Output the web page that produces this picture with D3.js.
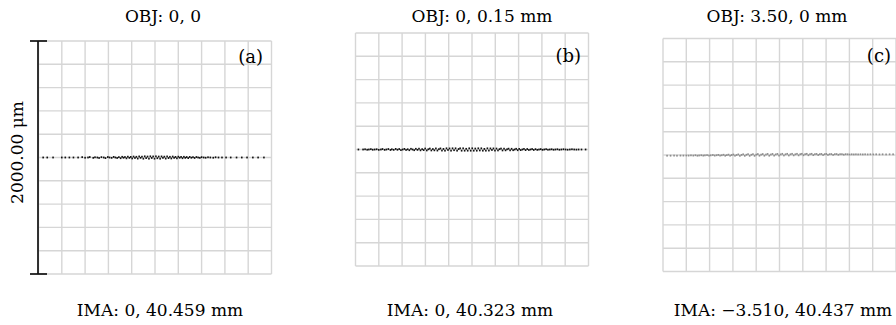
<!DOCTYPE html>
<html><head><meta charset="utf-8">
<script src="https://cdn.jsdelivr.net/npm/d3@7/dist/d3.min.js"></script>
<style>body{margin:0;background:#fff}svg{display:block}</style>
</head><body>
<svg id="c" width="896" height="325"></svg>
<script>
// Panel labels
const objLabels = ["OBJ: 0, 0", "OBJ: 0, 0.15 mm", "OBJ: 3.50, 0 mm"];
const imaLabels = ["IMA: 0, 40.459 mm", "IMA: 0, 40.323 mm", "IMA: \u22123.510, 40.437 mm"];
const tagLabels = ["(a)", "(b)", "(c)"];
const scaleLabel = "2000.00 \u03bcm";
const gridTicks = [-1000,-800,-600,-400,-200,0,200,400,600,800,1000];

// Spot points [x µm, y µm] relative to chief ray
const spotsA = [[-960,0],[-925,0],[-875,0],[-800,0],[-770,0],[-735,0],[-700,0],[-660,0],[-625,3],[-600,-2],[-575,0],[-560,4],[-530,-3],[-515,2],[-495,0],[-480,-4],[-460,3],[-440,0],[-425,-5],[-405,4],[-390,0],[-372,-3],[-355,5],[-340,0],[-325,-4],[-310,3],[-295,-6],[-282,6],[-270,-2],[-258,4],[-245,-7],[-233,7],[-220,-3],[-208,5],[-196,-8],[-184,8],[-172,-4],[-160,6],[-148,-9],[-136,9],[-124,-3],[-112,7],[-100,-10],[-88,10],[-76,-5],[-64,8],[-52,-10],[-40,10],[-28,-4],[-16,9],[-4,-10],[8,10],[20,-6],[32,8],[44,-10],[56,9],[68,-3],[80,7],[92,-9],[104,9],[116,-5],[128,6],[140,-8],[152,8],[164,-3],[176,5],[188,-7],[200,7],[212,-2],[224,5],[236,-6],[248,6],[260,-3],[272,4],[285,-5],[298,5],[312,-2],[326,3],[340,-4],[355,4],[370,0],[385,-3],[400,3],[418,0],[435,-2],[455,2],[475,0],[500,-2],[520,2],[545,0],[575,0],[610,0],[650,0],[700,0],[745,0],[790,0],[840,0],[885,0],[935,0]];
const spotsB = [[-975,0],[-935,0],[-918,2],[-900,-2],[-885,0],[-868,3],[-852,-2],[-835,0],[-818,2],[-800,-3],[-782,0],[-768,4],[-750,-3],[-735,0],[-718,4],[-700,-4],[-688,2],[-672,-3],[-655,5],[-640,-2],[-625,4],[-610,-5],[-595,0],[-580,5],[-566,-4],[-552,2],[-538,-6],[-524,6],[-510,0],[-496,-6],[-482,6],[-468,-3],[-455,7],[-442,-7],[-428,3],[-415,-5],[-402,8],[-388,-8],[-375,2],[-362,8],[-349,-8],[-336,4],[-323,-7],[-310,9],[-297,-9],[-284,3],[-271,9],[-258,-9],[-245,5],[-232,-10],[-219,10],[-206,-4],[-193,9],[-180,-10],[-167,10],[-154,-6],[-141,10],[-128,-10],[-115,4],[-102,10],[-89,-10],[-76,10],[-63,-10],[-50,6],[-37,-10],[-24,10],[-11,-10],[2,10],[15,-10],[28,8],[41,-10],[54,10],[67,-8],[80,10],[93,-10],[106,5],[119,-10],[132,10],[145,-9],[158,9],[171,-4],[184,9],[197,-9],[210,8],[223,-8],[236,3],[249,8],[262,-8],[275,7],[288,-7],[301,2],[314,7],[327,-7],[340,6],[353,-6],[366,0],[379,6],[392,-6],[405,5],[418,-5],[432,0],[446,5],[460,-5],[474,4],[488,-4],[502,0],[516,4],[530,-4],[545,3],[560,-3],[575,0],[590,3],[605,-3],[620,0],[636,3],[652,-2],[668,0],[684,2],[700,-2],[716,0],[733,2],[750,-2],[767,0],[785,2],[803,0],[821,-2],[840,0],[858,2],[877,0],[896,-1],[915,0],[940,0],[975,0]];
const spotsC = [[-965,-6],[-935,-6],[-905,-5],[-880,-6],[-850,-5],[-825,-5],[-800,-4],[-780,-5],[-760,-3],[-740,-5],[-722,-2],[-705,-6],[-690,-4],[-672,-2],[-655,-5],[-640,-3],[-622,-1],[-605,-5],[-590,-3],[-572,0],[-556,-5],[-540,-2],[-525,1],[-510,-5],[-495,-2],[-480,2],[-466,-6],[-452,-1],[-438,3],[-424,-6],[-410,0],[-396,4],[-382,-6],[-368,0],[-354,5],[-340,-7],[-326,1],[-312,6],[-298,-7],[-284,2],[-270,7],[-256,-7],[-242,2],[-228,7],[-214,-7],[-200,3],[-186,8],[-172,-6],[-158,3],[-144,8],[-130,-6],[-116,4],[-102,9],[-88,-6],[-74,4],[-60,9],[-46,-5],[-32,5],[-18,9],[-4,-5],[10,5],[24,10],[38,-4],[52,6],[66,10],[80,-4],[94,6],[108,10],[122,-3],[136,6],[150,10],[164,-3],[178,7],[192,10],[206,-2],[220,7],[234,10],[248,-2],[262,7],[276,10],[290,-1],[304,7],[318,9],[332,0],[346,7],[360,9],[374,0],[388,7],[402,9],[416,1],[430,7],[445,8],[460,1],[475,7],[490,8],[505,2],[520,7],[536,7],[552,3],[568,7],[585,6],[602,4],[620,6],[638,5],[656,6],[675,5],[695,6],[715,5],[735,6],[757,5],[780,6],[805,5],[830,6],[858,5],[885,6],[915,5],[945,6],[975,6]];

const panels = [
  {x: 38.5, y: 41, spots: spotsA, color: "#111", titleX: 163, imaX: 160, tagX: 263, tagY: 63},
  {x: 355.5, y: 33, spots: spotsB, color: "#111", titleX: 482, imaX: 470, tagX: 581, tagY: 62},
  {x: 663, y: 38.5, spots: spotsC, color: "#8e8e8e", titleX: 777, imaX: 783, tagX: 891, tagY: 62}
];
const size = 233;
const FONT = "'DejaVu Serif', 'Liberation Serif', serif";

const svg = d3.select("#c");

panels.forEach((p, i) => {
  const g = svg.append("g").attr("transform", `translate(${p.x},${p.y})`);
  const xs = d3.scaleLinear().domain([-1000, 1000]).range([0, size]);
  const ys = d3.scaleLinear().domain([-1000, 1000]).range([size, 0]);
  // grid
  g.selectAll(".vx").data(gridTicks).join("line")
    .attr("x1", d => xs(d)).attr("x2", d => xs(d))
    .attr("y1", 0).attr("y2", size)
    .attr("stroke", "#d6d6d6").attr("stroke-width", 1.4);
  g.selectAll(".hy").data(gridTicks).join("line")
    .attr("class","hy")
    .attr("y1", d => ys(d)).attr("y2", d => ys(d))
    .attr("x1", 0).attr("x2", size)
    .attr("stroke", "#d6d6d6").attr("stroke-width", 1.4);
  // spots
  g.selectAll("rect.s").data(p.spots).join("rect").attr("class","s")
    .attr("x", d => xs(d[0]) - 0.8).attr("y", d => ys(d[1]) - 0.9)
    .attr("width", 1.6).attr("height", 1.8)
    .attr("fill", p.color);
  // tag
  svg.append("text").attr("x", p.tagX).attr("y", p.tagY)
    .attr("text-anchor", "end").attr("font-family", FONT).attr("font-size", 18)
    .attr("fill", "#000").text(tagLabels[i]);
  // titles
  svg.append("text").attr("x", p.titleX).attr("y", 22)
    .attr("text-anchor", "middle").attr("font-family", FONT).attr("font-size", 17)
    .attr("fill", "#000").text(objLabels[i]);
  svg.append("text").attr("x", p.imaX).attr("y", 316)
    .attr("text-anchor", "middle").attr("font-family", FONT).attr("font-size", 17)
    .attr("fill", "#000").text(imaLabels[i]);
});

// scale bar
const sb = d3.scaleLinear().domain([0, 2000]).range([274, 41]);
svg.append("line").attr("x1", 38).attr("x2", 38).attr("y1", sb(0)).attr("y2", sb(2000))
  .attr("stroke", "#111").attr("stroke-width", 1.7);
[0, 2000].forEach(v => svg.append("line").attr("x1", 30).attr("x2", 47)
  .attr("y1", sb(v)).attr("y2", sb(v)).attr("stroke", "#111").attr("stroke-width", 1.7));
svg.append("text").attr("transform", `translate(23,${sb(1000) - 5}) rotate(-90)`)
  .attr("text-anchor", "middle").attr("font-family", FONT).attr("font-size", 17)
  .attr("fill", "#000").text(scaleLabel);
</script>
</body></html>
